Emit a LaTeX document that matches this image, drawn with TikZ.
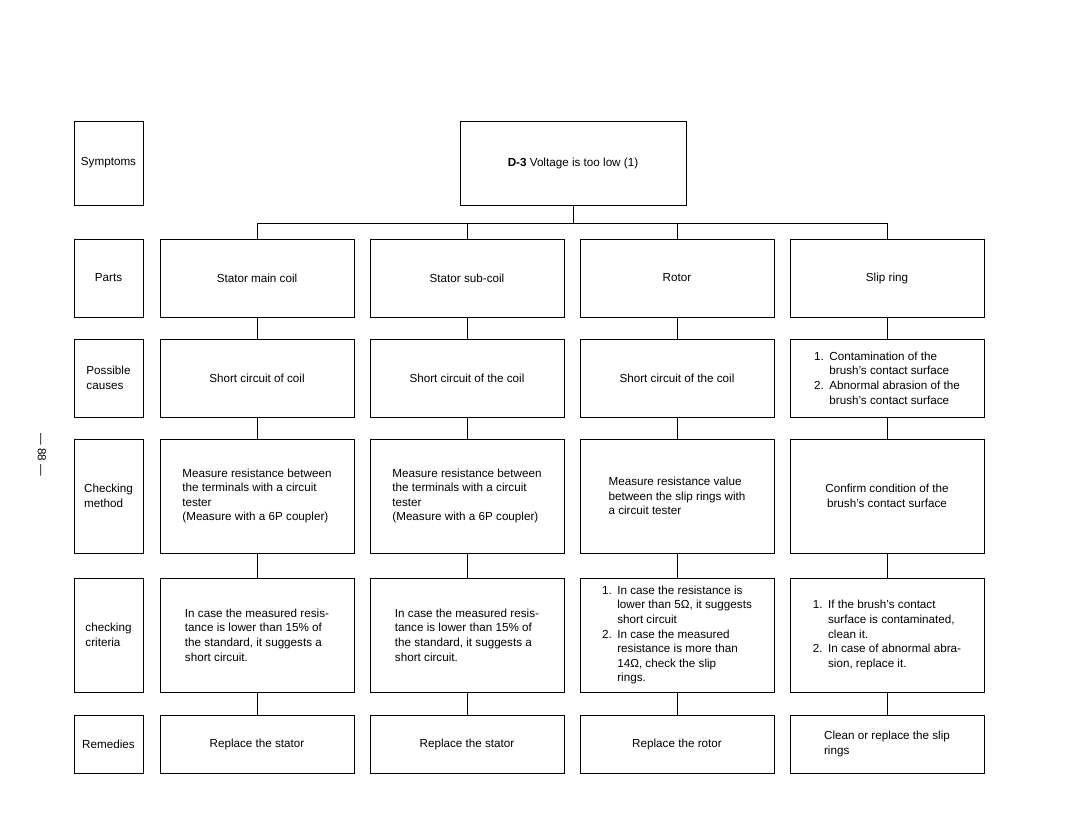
\documentclass[tikz,border=0pt]{standalone}
\usepackage{fontspec}
\setmainfont{Liberation Sans}
\usetikzlibrary{calc}

\newcommand{\lnum}[1]{\makebox[1.3em][l]{#1.}}
\newcommand{\ind}{\hspace*{1.3em}}

\begin{document}
\begin{tikzpicture}[x=0.025cm,y=-0.025cm,line width=0.6pt,
	box/.style={draw, inner sep=2pt, align=center, font=\fontsize{8.3}{10.4}\selectfont},
	lbl/.style={box, minimum width=1.725cm, align=left},
	col/.style={box, minimum width=4.85cm},
	low/.style={minimum height=1.95cm},
	high/.style={minimum height=2.85cm}]
	
	\useasboundingbox (0,0) rectangle (1080,835);
	
	% row labels
	\node[lbl, minimum height=2.1cm] (symp) at (108.5,163) {Symptoms};
	\node[lbl, low] (parts) at (108.5,278) {Parts};
	\node[lbl, low] (causes) at (108.5,378) {Possible\\causes};
	\node[lbl, high] (method) at (108.5,496) {Checking\\method};
	\node[lbl, high] (criteria) at (108.5,635) {checking\\criteria};
	\node[lbl, minimum height=1.45cm] (remedies) at (108.5,744) {Remedies};
	
	\node[rotate=-90, font=\fontsize{8.3}{10.4}\selectfont] (pgno) at (42,455) {--- 88 ---};
	
	% symptom
	\node[box, minimum width=5.65cm, minimum height=2.1cm] (d3) at (573,163) {\textbf{D-3} Voltage is too low (1)};
	
	% parts
	\node[col, low] (part1) at (257,278) {Stator main coil};
	\node[col, low] (part2) at (467,278) {Stator sub-coil};
	\node[col, low] (part3) at (677,278) {Rotor};
	\node[col, low] (part4) at (887,278) {Slip ring};
	
	% possible causes
	\node[col, low] (cause1) at (257,378) {Short circuit of coil};
	\node[col, low] (cause2) at (467,378) {Short circuit of the coil};
	\node[col, low] (cause3) at (677,378) {Short circuit of the coil};
	\node[col, low, align=left] (cause4) at (887,378) {\lnum{1}Contamination of the\\\ind brush's contact surface\\\lnum{2}Abnormal abrasion of the\\\ind brush's contact surface};
	
	% checking method
	\node[col, high, align=left] (meth1) at (257,496) {Measure resistance between\\the terminals with a circuit\\tester\\(Measure with a 6P coupler)};
	\node[col, high, align=left] (meth2) at (467,496) {Measure resistance between\\the terminals with a circuit\\tester\\(Measure with a 6P coupler)};
	\node[col, high, align=left] (meth3) at (677,496) {Measure resistance value\\between the slip rings with\\a circuit tester};
	\node[col, high] (meth4) at (887,496) {Confirm condition of the\\brush's contact surface};
	
	% checking criteria
	\node[col, high, align=left] (crit1) at (257,635) {In case the measured resis-\\tance is lower than 15\% of\\the standard, it suggests a\\short circuit.};
	\node[col, high, align=left] (crit2) at (467,635) {In case the measured resis-\\tance is lower than 15\% of\\the standard, it suggests a\\short circuit.};
	\node[col, high, align=left] (crit3) at (677,635) {\lnum{1}In case the resistance is\\\ind lower than 5Ω, it suggests\\\ind short circuit\\\lnum{2}In case the measured\\\ind resistance is more than\\\ind 14Ω, check the slip\\\ind rings.};
	\node[col, high, align=left] (crit4) at (887,635) {\lnum{1}If the brush's contact\\\ind surface is contaminated,\\\ind clean it.\\\lnum{2}In case of abnormal abra-\\\ind sion, replace it.};
	
	% remedies
	\node[col, minimum height=1.45cm] (rem1) at (257,744) {Replace the stator};
	\node[col, minimum height=1.45cm] (rem2) at (467,744) {Replace the stator};
	\node[col, minimum height=1.45cm] (rem3) at (677,744) {Replace the rotor};
	\node[col, minimum height=1.45cm, align=left] (rem4) at (887,744) {Clean or replace the slip\\rings};
	
	% connectors
	\coordinate (bus) at (573,223);
	\draw (d3) -- (bus);
	\draw (bus -| part1) -- (bus -| part4);
	\foreach \c in {1,...,4} {
		\draw (bus -| part\c) -- (part\c);
		\draw (part\c) -- (cause\c);
		\draw (cause\c) -- (meth\c);
		\draw (meth\c) -- (crit\c);
		\draw (crit\c) -- (rem\c);
	}
	
\end{tikzpicture}
\end{document}
